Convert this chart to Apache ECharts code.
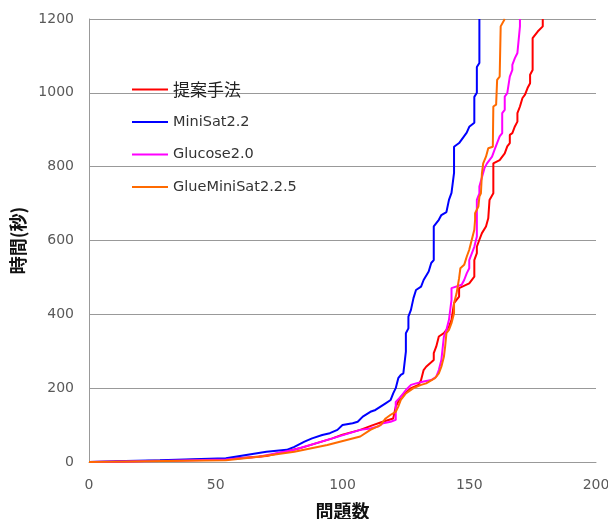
<!DOCTYPE html>
<html>
<head>
<meta charset="utf-8">
<script src="https://cdn.jsdelivr.net/npm/echarts@6/dist/echarts.min.js"></script>
<style>
  html, body { margin: 0; padding: 0; background: #fff; }
  #chart { width: 608px; height: 519px; }
</style>
</head>
<body>
<div id="chart"></div>
<script>
// 凡例の順番
const seriesNames = ["提案手法", "MiniSat2.2", "Glucose2.0", "GlueMiniSat2.2.5"];
const seriesColors = ["#ff0000", "#0000ff", "#ff00ff", "#ff6a00"];

// [問題数, 時間(秒)]
const proposed = [
  [0, 0], [10, 1], [30, 4], [55, 8], [70, 16], [83, 37], [96, 64], [100, 74],
  [107, 87], [112, 100], [115, 107], [120, 118], [121, 150], [123, 177],
  [127, 200], [130, 209], [131, 222], [132, 249], [133, 258], [136, 276],
  [136, 295], [137, 313], [138, 340], [140, 349], [141, 358], [142, 367],
  [143, 385], [144, 430], [145, 439], [146, 448], [146, 471], [150, 484],
  [152, 502], [152, 547], [153, 566], [153, 583], [154, 602], [155, 620],
  [156.6, 638], [157.5, 660], [158, 710], [159.5, 728], [159.5, 809],
  [162, 818], [164, 836], [165, 855], [166, 864], [166, 886], [167, 891],
  [168, 909], [169, 922], [169, 945], [170, 963], [171, 986], [172, 995],
  [173, 1013], [174, 1026], [174, 1049], [175, 1062], [175, 1148],
  [177, 1166], [179, 1180], [179, 1200]
];
const minisat = [
  [0, 0], [10, 2], [28, 5], [54, 10], [62, 19], [70, 28], [78, 33], [81, 41],
  [85, 55], [88, 64], [92, 73], [95, 78], [98, 87], [100, 100], [104, 105],
  [106, 109], [108, 123], [111, 136], [113, 141], [115, 150], [117, 159],
  [119, 168], [120, 186], [121, 200], [122, 227], [123, 236], [124, 240],
  [125, 299], [125, 349], [126, 362], [126, 394], [127, 412], [128, 444],
  [129, 466], [131, 475], [132, 493], [134, 516], [135, 539], [136, 547],
  [136, 638], [138, 656], [139, 669], [141, 677], [142, 710], [143, 729],
  [144, 783], [144, 854], [146, 864], [149, 892], [150, 908], [152, 919],
  [152, 989], [153, 1000], [153, 1070], [154, 1081], [154, 1200]
];
const glucose = [
  [0, 0], [28, 3], [54, 7], [67, 14], [81, 33], [96, 64], [107, 87],
  [111, 91], [114, 96], [116, 105], [119, 109], [121, 114], [121, 163],
  [123, 177], [125, 195], [127, 209], [129, 213], [132, 218], [135, 222],
  [137, 231], [138, 249], [139, 276], [140, 340], [141, 358], [142, 385],
  [143, 439], [143, 471], [147, 480], [148, 493], [149, 511], [150, 525],
  [150, 547], [152, 583], [153, 611], [153, 656], [153, 710], [154, 728],
  [154, 746], [156, 796], [157, 809], [159, 827], [160, 846], [162, 882],
  [163, 891], [163, 945], [164, 954], [164, 990], [165, 999], [166, 1044],
  [167, 1062], [167, 1076], [168, 1094], [169, 1108], [170, 1180], [170, 1200]
];
const glueminisat = [
  [0, 0], [54, 5], [67, 14], [81, 28], [94, 46], [107, 69], [111, 87],
  [115, 100], [117, 118], [119, 128], [121, 136], [122, 150], [123, 168],
  [125, 186], [128, 200], [131, 209], [133, 213], [136.5, 227], [138, 240],
  [139, 258], [140, 285], [140.5, 313], [141, 349], [142, 358], [143, 376],
  [144, 403], [144, 430], [145, 457], [146, 498], [146.5, 525], [148, 534],
  [149, 556], [150, 575], [151, 602], [152, 629], [152.3, 656], [152.3, 674],
  [153.6, 692], [154, 719], [154.6, 728], [155, 782], [155.5, 809],
  [156.6, 827], [157.5, 850], [159.3, 854], [159.5, 963], [160.6, 968],
  [161, 1035], [162, 1044], [162.4, 1180], [164, 1200]
];
const seriesData = [proposed, minisat, glucose, glueminisat];

const fontFamily = '"Noto Sans CJK JP", "Noto Sans", sans-serif';
const tickFont = '"DejaVu Sans", Verdana, sans-serif';
const chart = echarts.init(document.getElementById("chart"));

chart.setOption({
  animation: false,
  backgroundColor: "#fff",
  textStyle: { fontFamily: fontFamily },
  grid: { left: 89, right: 12, top: 19, bottom: 57, outerBoundsMode: "none", containLabel: false },
  legend: {
    orient: "vertical",
    left: 127,
    top: 74,
    itemGap: 11.5,
    itemWidth: 36,
    itemHeight: 2,
    icon: "rect",
    textStyle: { color: "#333", fontSize: 14.5, lineHeight: 21, fontFamily: tickFont },
    data: seriesNames.map((n, i) =>
      i === 0
        ? { name: n, textStyle: { fontSize: 17, color: "#222", fontFamily: fontFamily } }
        : { name: n }
    ),
  },
  xAxis: {
    type: "value",
    min: 0,
    max: 200,
    interval: 50,
    name: "問題数",
    nameLocation: "middle",
    nameGap: 40,
    nameTextStyle: { fontSize: 18, fontWeight: "bold", color: "#111" },
    axisLine: { show: true, lineStyle: { color: "#999", width: 1 } },
    axisTick: { show: false },
    axisLabel: { color: "#595959", fontSize: 14, margin: 16, fontFamily: tickFont },
    splitLine: { show: false },
  },
  yAxis: {
    type: "value",
    min: 0,
    max: 1200,
    interval: 200,
    name: "時間(秒)",
    nameLocation: "middle",
    nameGap: 58,
    nameRotate: 90,
    nameTextStyle: { fontSize: 18, fontWeight: "bold", color: "#111" },
    axisLine: { show: true, lineStyle: { color: "#999", width: 1 } },
    axisTick: { show: false },
    axisLabel: {
      color: "#595959",
      fontSize: 14,
      margin: 15,
      fontFamily: tickFont,
      formatter: (v) => String(v),
    },
    splitLine: { show: true, lineStyle: { color: "#999", width: 1 } },
  },
  series: seriesNames.map((n, i) => ({
    name: n,
    type: "line",
    data: seriesData[i],
    showSymbol: false,
    symbol: "none",
    lineStyle: { color: seriesColors[i], width: 2 },
    itemStyle: { color: seriesColors[i] },
  })),
});
</script>
</body>
</html>
